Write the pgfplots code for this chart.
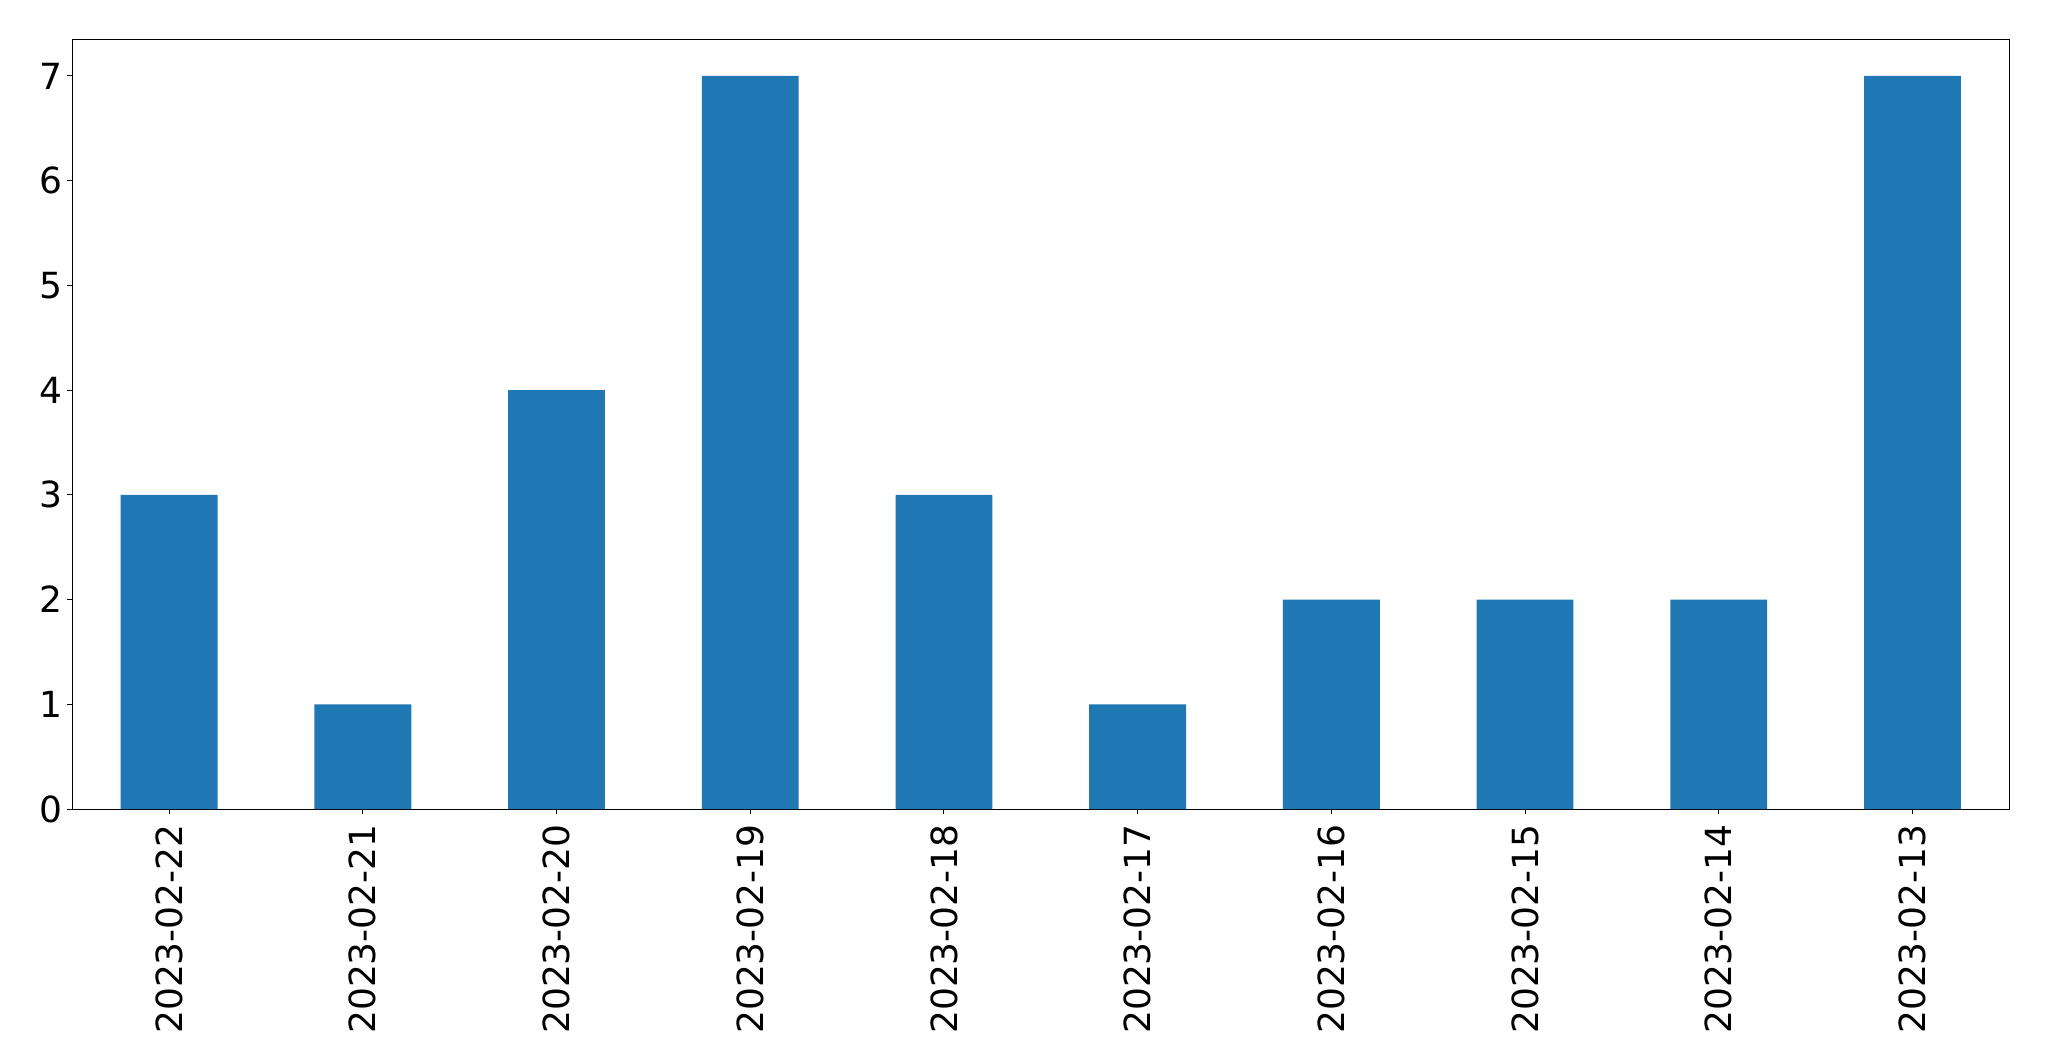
\documentclass[border=0pt]{standalone}
\usepackage{fontspec}
\setmainfont{DejaVu Sans}
\usepackage{pgfplots}
\pgfplotsset{compat=1.18}
\definecolor{barblue}{HTML}{1F77B4}
\begin{document}
\begin{tikzpicture}
\begin{axis}[
  scale only axis,
  width=968.5pt, height=384.9pt,
  xmin=-0.5, xmax=9.5, ymin=0, ymax=7.35,
  xtick={0,...,9},
  xticklabels={2023-02-22,2023-02-21,2023-02-20,2023-02-19,2023-02-18,2023-02-17,2023-02-16,2023-02-15,2023-02-14,2023-02-13},
  ytick={0,...,7},
  tick align=outside,
  tick pos=left,
  major tick length=2.5pt,
  every tick/.style={black, line width=0.5pt},
  axis line style={line width=0.5pt},
  /pgf/number format/assume math mode=true,
  ticklabel style={font=\fontsize{18}{21}\selectfont},
  xticklabel shift=5pt,
  xticklabel style={rotate=90, anchor=east, inner sep=0pt},
  yticklabel style={anchor=east, inner sep=0pt, xshift=-2pt},
  ybar, bar width=0.5,
]
\addplot[fill=barblue, draw=none] coordinates {(0,3) (1,1) (2,4) (3,7) (4,3) (5,1) (6,2) (7,2) (8,2) (9,7)};
\end{axis}
\path[use as bounding box] ([xshift=-36.15pt,yshift=-126pt]current axis.south west) rectangle ([xshift=19.85pt,yshift=19.65pt]current axis.north east);
\end{tikzpicture}
\end{document}
